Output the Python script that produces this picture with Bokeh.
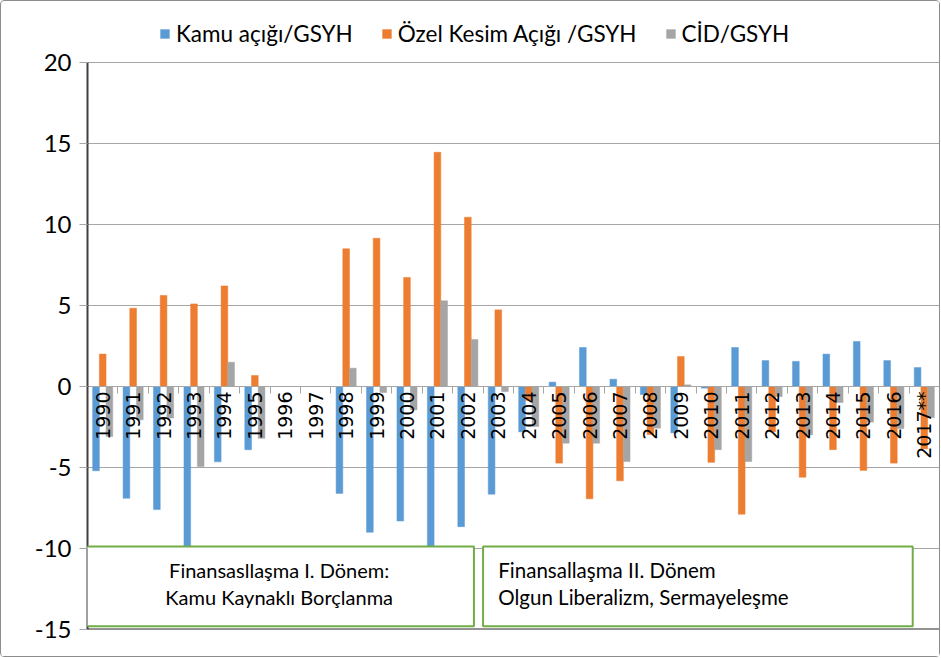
import numpy as np
from bokeh.plotting import figure
from bokeh.models import (Range1d, LinearAxis, FixedTicker, BoxAnnotation, CustomJSTickFormatter,
                          Label, Legend, LegendItem, Span, ColumnDataSource)
from bokeh.transform import dodge
from bokeh.embed import file_html
from bokeh.resources import INLINE

nan = float("nan")

years = ["1990", "1991", "1992", "1993", "1994", "1995", "1996", "1997", "1998", "1999",
         "2000", "2001", "2002", "2003", "2004", "2005", "2006", "2007", "2008", "2009",
         "2010", "2011", "2012", "2013", "2014", "2015", "2016", "2017**"]

kamu = [-5.2, -6.9, -7.6, -10.4, -4.65, -3.9, nan, nan, -6.6, -9.0,
        -8.3, -11.0, -8.65, -6.65, -2.8, 0.27, 2.41, 0.45, -0.5, -2.86,
        -0.1, 2.41, 1.6, 1.55, 2.0, 2.78, 1.6, 1.17]

ozel = [2.0, 4.83, 5.62, 5.1, 6.21, 0.68, nan, nan, 8.5, 9.15,
        6.73, 14.46, 10.45, 4.73, -0.86, -4.73, -6.93, -5.82, -2.97, 1.85,
        -4.68, -7.88, -2.8, -5.6, -3.9, -5.18, -4.73, -3.85]

cid = [-3.09, -2.06, -1.95, -4.94, 1.5, -3.2, nan, nan, 1.13, -0.37,
       -1.44, 5.29, 2.9, -0.31, -2.47, -3.5, -3.5, -4.63, -2.57, 0.1,
       -3.9, -4.63, -0.62, -2.98, -0.99, -2.2, -2.6, -1.91]

series_names = ["Kamu açığı/GSYH", "Özel Kesim Açığı /GSYH", "CİD/GSYH"]
series_colors = ["#5B9BD5", "#ED7D31", "#A5A5A5"]
y_ticks = [-15, -10, -5, 0, 5, 10, 15, 20]

period1_lines = ["Finansasllaşma I. Dönem:", "Kamu Kaynaklı Borçlanma"]
period2_lines = ["Finansallaşma II. Dönem", "Olgun Liberalizm, Sermayeleşme"]

n = len(years)
centers = np.arange(n) + 0.5
src = ColumnDataSource(dict(x=centers, year=years, kamu=np.array(kamu),
                            ozel=np.array(ozel), cid=np.array(cid)))

# frame: 20 at y=61, -15 at y=628 ; extra head-room above for the legend
y_top = 20 + 49 * 35 / 567
p = figure(x_range=Range1d(0, n), y_range=Range1d(-15, y_top),
           width=940, height=657, output_backend="svg", toolbar_location=None,
           min_border_left=86, min_border_right=2, min_border_top=12, min_border_bottom=29)
p.outline_line_color = None
p.background_fill_color = "white"
p.border_fill_color = "white"
p.styles = {"border": "1px solid #8C8C8C", "border-radius": "4px", "box-sizing": "border-box"}

bw = 0.22
renderers = []
for col, off, color in zip(["kamu", "ozel", "cid"], [-0.22, 0.0, 0.22], series_colors):
    r = p.vbar(x=dodge("x", off), top=col, bottom=0, width=bw,
               source=src, fill_color=color, line_color=color, line_width=0.5)
    renderers.append(r)

# grid
p.xgrid.visible = False
p.ygrid.ticker = FixedTicker(ticks=y_ticks)
p.ygrid.grid_line_color = "#A6A6A6"
p.ygrid.grid_line_width = 1

# y axis
yax = p.yaxis[0]
yax.ticker = FixedTicker(ticks=y_ticks)
yax.formatter = CustomJSTickFormatter(code="return String(tick);")
yax.bounds = (y_ticks[0], y_ticks[-1])
yax.major_label_text_font = "Lato"
yax.major_label_text_font_size = "24px"
yax.major_label_text_color = "#000000"
yax.axis_line_color = "#404040"
yax.axis_line_width = 2
yax.major_tick_line_color = "#A6A6A6"
yax.major_tick_out = 8
yax.major_tick_in = 0
yax.minor_tick_line_color = None
yax.major_label_standoff = 8

# category labels at the zero line
xax = p.xaxis[0]
xax.ticker = FixedTicker(ticks=list(centers))
xax.formatter = CustomJSTickFormatter(args=dict(labels=years),
                                      code="return labels[Math.floor(tick)] || '';")
xax.fixed_location = 0
xax.major_label_orientation = np.pi / 2
xax.major_label_text_font = "DejaVu Sans"
xax.major_label_text_font_size = "19px"
xax.major_label_text_color = "#000000"
xax.major_tick_line_color = None
xax.minor_tick_line_color = None
xax.major_tick_out = 0
xax.major_tick_in = 0
xax.major_label_standoff = 5
xax.axis_line_color = "#A6A6A6"

# tick marks at category boundaries
bax = LinearAxis(ticker=FixedTicker(ticks=list(range(n + 1))),
                 formatter=CustomJSTickFormatter(code="return '';"),
                 fixed_location=0, major_tick_out=7, major_tick_in=0,
                 minor_tick_line_color=None, major_label_standoff=0,
                 axis_line_color="#A6A6A6", major_tick_line_color="#A6A6A6")
p.add_layout(bax, "below")

# bottom line
p.add_layout(Span(location=y_ticks[0], dimension="width", line_color="#262626", line_width=2))

# period boxes
box_style = dict(fill_color="white", fill_alpha=1, line_color="#70AD47", line_alpha=1,
                 line_width=2, level="overlay")
p.add_layout(BoxAnnotation(left=-0.1, right=12.7, bottom=-14.8, top=-9.88, **box_style))
p.add_layout(BoxAnnotation(left=13.0, right=27.12, bottom=-14.8, top=-9.88, **box_style))

for t, yy in zip(period1_lines, [-11.3, -13.0]):
    p.add_layout(Label(x=6.3, y=yy, text=t, text_align="center",
                       text_baseline="middle", text_font="Lato", text_font_size="20px",
                       text_color="#000000", level="overlay"))
for t, yy in zip(period2_lines, [-11.3, -13.0]):
    p.add_layout(Label(x=13.5, y=yy, text=t, text_align="left",
                       text_baseline="middle", text_font="Lato", text_font_size="20.5px",
                       text_color="#000000", level="overlay"))

legend = Legend(items=[LegendItem(label=nm, renderers=[r]) for nm, r in zip(series_names, renderers)],
                orientation="horizontal", location=(72, 582),
                label_text_font="Lato", label_text_font_size="22.5px", label_text_color="#000000",
                glyph_width=11, glyph_height=11, spacing=28, label_standoff=6,
                border_line_color=None, background_fill_alpha=0, margin=0, padding=0)
p.add_layout(legend, "center")

open("out.html", "w").write(file_html(p, INLINE))
